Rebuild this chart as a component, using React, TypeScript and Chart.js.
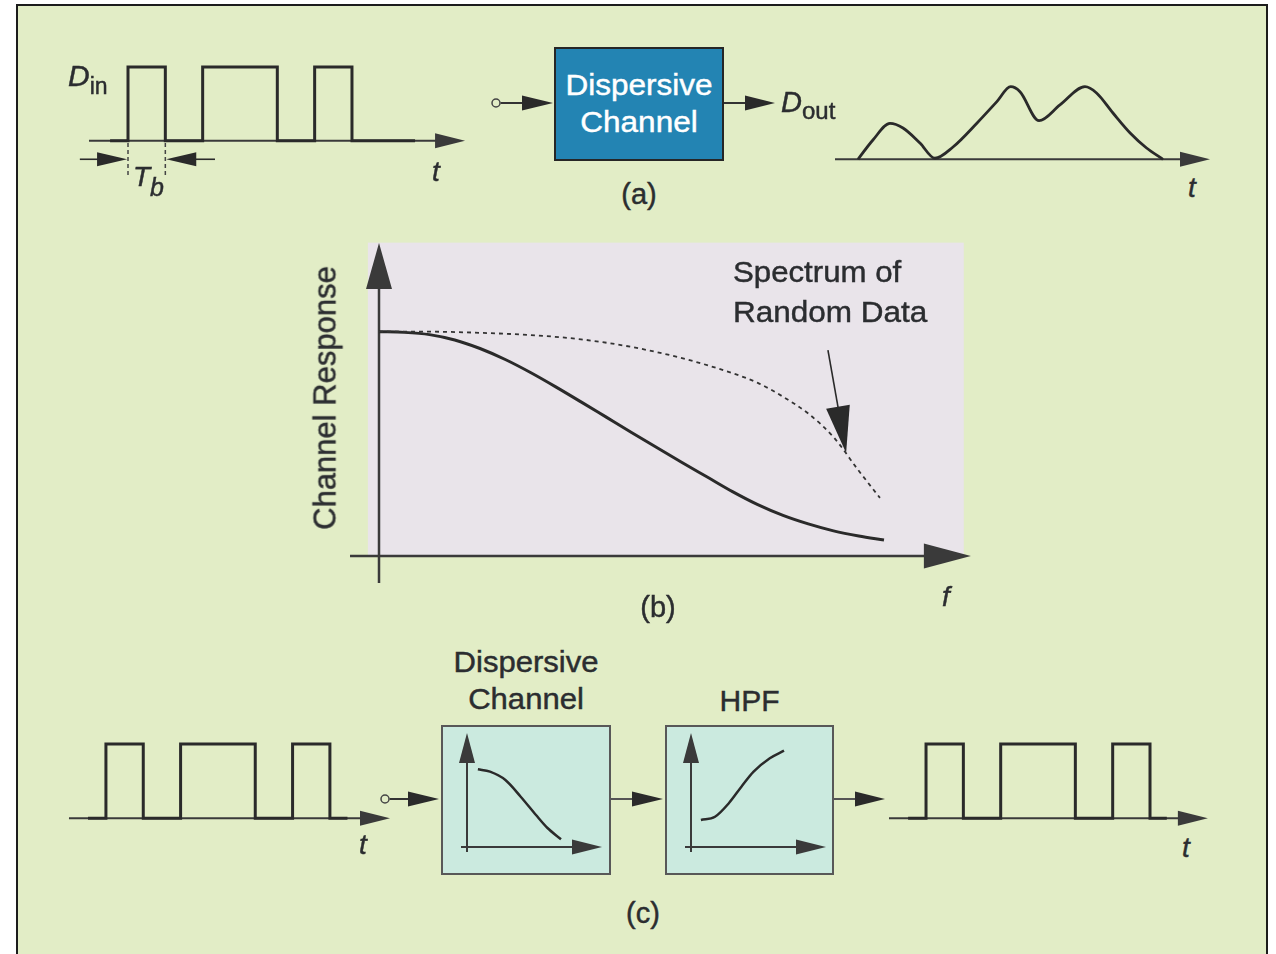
import React, { useEffect, useRef } from "react";
import { Chart, registerables } from "chart.js";

Chart.register(...registerables);

// ---------------- data ----------------
// (a) input bit stream, one level per bit period Tb
const dinBits = [0, 1, 0, 1, 1, 0, 1, 0, 0];
const dinSpan = [0.52, 8.69]; // start / end of the trace, in Tb
// (a) dispersed output waveform (time in Tb, normalized level)
const doutTime = [0, 0.4, 0.857, 1.205, 1.66, 2.06, 2.545, 3.19, 3.72, 4.09, 4.34, 4.85, 5.41, 6.08, 6.39, 6.83, 7.29, 7.73, 8.17];
const doutLevel = [0, 0.262, 0.488, 0.425, 0.221, 0.014, 0.167, 0.493, 0.782, 0.985, 0.917, 0.524, 0.737, 0.985, 0.9, 0.628, 0.357, 0.153, 0];
// (b) channel response vs frequency
const respFreq = [0, 0.5, 1, 1.5, 2, 2.5, 3, 3.5, 4, 4.5, 5, 5.5, 6, 6.5, 7, 7.5, 8, 8.5, 9, 9.5, 10];
const channelResp = [1.0, 0.997, 0.987, 0.963, 0.925, 0.876, 0.818, 0.754, 0.687, 0.619, 0.551, 0.484, 0.417, 0.352, 0.287, 0.229, 0.181, 0.143, 0.112, 0.089, 0.071];
// (b) spectrum of random data
const spectrumFreq = [0, 1, 2, 3, 4, 5, 6, 7, 7.5, 8, 8.5, 9, 9.5, 9.92];
const spectrumLevel = [1.0, 1.0, 0.995, 0.985, 0.966, 0.932, 0.882, 0.815, 0.772, 0.71, 0.635, 0.53, 0.38, 0.259];
// (c) input and equalized output bit streams
const eqInBits = [0, 1, 0, 1, 1, 0, 1, 0];
const eqInSpan = [0.52, 7.47];
const eqOutBits = [0, 1, 0, 1, 1, 0, 1, 0];
const eqOutSpan = [0.52, 7.45];
// (c) small sketches inside the blocks
const lpfFreq = [0.109, 0.23, 0.384, 0.537, 0.69, 0.805, 0.94];
const lpfGain = [0.777, 0.753, 0.67, 0.503, 0.32, 0.19, 0.077];
const hpfFreq = [0.099, 0.24, 0.38, 0.504, 0.626, 0.788, 0.93];
const hpfGain = [0.27, 0.303, 0.44, 0.603, 0.753, 0.887, 0.963];

// ---------------- styles ----------------
const BG = "#e2edc6";
const PINK = "#e9e4ea";
const BLUE = "#2384b3";
const CYAN = "#cbeadf";
const INK = "#2a2a2a";
const AXIS = "#3a3a3a";
const TEXT = "#2b2d30";
const FONT = "'Liberation Sans', Arial, Helvetica, sans-serif";

type Pt = { x: number; y: number };

function stepPoints(bits: number[], span: number[]): Pt[] {
  const pts: Pt[] = [{ x: span[0], y: bits[0] }];
  for (let i = 1; i < bits.length; i++) {
    if (bits[i] !== bits[i - 1]) {
      pts.push({ x: i, y: bits[i - 1] }, { x: i, y: bits[i] });
    }
  }
  const last = bits[Math.min(bits.length - 1, Math.floor(span[1]))];
  pts.push({ x: span[1], y: last });
  return pts;
}

function zipPts(xs: number[], ys: number[]): Pt[] {
  return xs.map((x, i) => ({ x, y: ys[i] }));
}

function range(map: number[], start: number, len: number) {
  const [p0, v0, p1, v1] = map;
  const ppu = (p1 - p0) / (v1 - v0);
  const a = v0 + (start - p0) / ppu;
  const b = v0 + (start + len - p0) / ppu;
  return { min: Math.min(a, b), max: Math.max(a, b) };
}

function drawArrow(ctx: CanvasRenderingContext2D, x1: number, y1: number, x2: number, y2: number, w: number, color: string, hl: number, hw: number) {
  const dx = x2 - x1, dy = y2 - y1;
  const L = Math.hypot(dx, dy);
  const ux = dx / L, uy = dy / L;
  const bx = x2 - ux * hl, by = y2 - uy * hl;
  ctx.strokeStyle = color;
  ctx.lineWidth = w;
  ctx.setLineDash([]);
  ctx.beginPath();
  ctx.moveTo(x1, y1);
  ctx.lineTo(bx + ux * 2, by + uy * 2);
  ctx.stroke();
  ctx.fillStyle = color;
  ctx.beginPath();
  ctx.moveTo(x2, y2);
  ctx.lineTo(bx - uy * hw, by + ux * hw);
  ctx.lineTo(bx + uy * hw, by - ux * hw);
  ctx.closePath();
  ctx.fill();
}

type Deco = {
  rects?: { x0: number; x1: number; y0: number; y1: number; color: string }[];
  lines?: { x1: number; y1: number; x2: number; y2: number; w: number; color: string; dash?: number[] }[];
  arrows?: { x1: number; y1: number; x2: number; y2: number; w: number; color: string; hl: number; hw: number }[];
};

function makeDiagram(deco: Deco) {
  return {
    id: "diagram",
    beforeDatasetsDraw(chart: any) {
      const ctx: CanvasRenderingContext2D = chart.ctx;
      const X = (v: number) => chart.scales.x.getPixelForValue(v);
      const Y = (v: number) => chart.scales.y.getPixelForValue(v);
      ctx.save();
      (deco.rects || []).forEach((r) => {
        ctx.fillStyle = r.color;
        ctx.fillRect(X(r.x0), Y(r.y1), X(r.x1) - X(r.x0), Y(r.y0) - Y(r.y1));
      });
      (deco.lines || []).forEach((l) => {
        ctx.strokeStyle = l.color;
        ctx.lineWidth = l.w;
        ctx.setLineDash(l.dash || []);
        ctx.beginPath();
        ctx.moveTo(X(l.x1), Y(l.y1));
        ctx.lineTo(X(l.x2), Y(l.y2));
        ctx.stroke();
      });
      (deco.arrows || []).forEach((a) => {
        drawArrow(ctx, X(a.x1), Y(a.y1), X(a.x2), Y(a.y2), a.w, a.color, a.hl, a.hw);
      });
      ctx.restore();
    },
  };
}

type PlotProps = {
  box: number[];
  xMap: number[];
  yMap: number[];
  datasets: any[];
  deco: Deco;
};

function Plot({ box, xMap, yMap, datasets, deco }: PlotProps) {
  const ref = useRef<HTMLCanvasElement>(null);
  const [left, top, width, height] = box;
  useEffect(() => {
    if (!ref.current) return;
    const xr = range(xMap, left, width);
    const yr = range(yMap, top, height);
    const chart = new Chart(ref.current, {
      type: "line",
      data: { datasets },
      options: {
        animation: false,
        responsive: false,
        maintainAspectRatio: false,
        events: [],
        layout: { padding: 0 },
        plugins: { legend: { display: false }, tooltip: { enabled: false } },
        elements: { point: { radius: 0 } },
        scales: {
          x: { type: "linear", display: false, min: xr.min, max: xr.max },
          y: { type: "linear", display: false, min: yr.min, max: yr.max },
        },
      },
      plugins: [makeDiagram(deco)],
    } as any);
    return () => chart.destroy();
  }, []);
  return (
    <canvas
      ref={ref}
      width={width}
      height={height}
      style={{ position: "absolute", left, top, width, height }}
    />
  );
}

const STROKE = "0.45px";

function Label({ x, base, size = 29, align = "center", italic = false, sx = 1, color = TEXT, children }: any) {
  return (
    <div
      style={{
        position: "absolute",
        left: x,
        top: base - 0.8465 * size,
        fontSize: size,
        lineHeight: `${size}px`,
        whiteSpace: "nowrap",
        fontStyle: italic ? "italic" : "normal",
        transform: `${align === "center" ? "translateX(-50%) " : ""}scaleX(${sx})`,
        transformOrigin: align === "center" ? "center" : "left",
        color,
        WebkitTextStroke: `${STROKE} ${color}`,
      }}
    >
      {children}
    </div>
  );
}

const lineDS = (data: Pt[], w: number, extra: any = {}) => ({
  data,
  borderColor: INK,
  borderWidth: w,
  fill: false,
  pointRadius: 0,
  tension: 0,
  borderJoinStyle: "miter",
  ...extra,
});

const waveAxis = (from: number, to: number) => ({
  x1: from, y1: 0, x2: to, y2: 0, w: 2, color: AXIS, hl: 30, hw: 7.5,
});

export default function App() {
  const TB = 37.33;
  const AMP = 73.7;
  return (
    <div
      style={{
        position: "fixed",
        left: 0,
        top: 0,
        width: 1276,
        height: 954,
        overflow: "hidden",
        background: "#ffffff",
        fontFamily: FONT,
      }}
    >
      <div
        style={{
          position: "absolute",
          left: 16,
          top: 4,
          width: 1252,
          height: 980,
          boxSizing: "border-box",
          border: "2px solid #1c1c1c",
          background: BG,
        }}
      />

      {/* block diagram connectors */}
      <svg width={1276} height={954} style={{ position: "absolute", left: 0, top: 0 }}>
        <g stroke="#333" strokeWidth={2} fill="#2a2a2a">
          <line x1={500.5} y1={103} x2={524} y2={103} />
          <polygon points="522,95.5 553,103 522,110.5" stroke="none" />
          <line x1={723} y1={103} x2={747} y2={103} />
          <polygon points="745,95.5 775,103 745,110.5" stroke="none" />
          <line x1={389.5} y1={799} x2={410} y2={799} />
          <polygon points="408,791.5 439,799 408,806.5" stroke="none" />
          <line x1={610} y1={799} x2={634} y2={799} stroke="#555" />
          <polygon points="632,791.5 663,799 632,806.5" stroke="none" />
          <line x1={833} y1={799} x2={857} y2={799} stroke="#555" />
          <polygon points="855,791.5 885,799 855,806.5" stroke="none" />
        </g>
        <circle cx={496} cy={103} r={4} stroke="#444" strokeWidth={1.5} fill={BG} />
        <circle cx={385} cy={799} r={4} stroke="#444" strokeWidth={1.5} fill={BG} />
      </svg>

      {/* (a) Dispersive Channel block */}
      <div
        style={{
          position: "absolute",
          left: 554,
          top: 47,
          width: 170,
          height: 114,
          boxSizing: "border-box",
          border: "2px solid #262626",
          background: BLUE,
        }}
      />
      <Label x={639} base={95.5} size={30} sx={1.05} color="#ffffff">Dispersive</Label>
      <Label x={639} base={132.5} size={30} sx={1.05} color="#ffffff">Channel</Label>

      {/* (c) blocks */}
      <div style={{ position: "absolute", left: 441, top: 725, width: 170, height: 150, boxSizing: "border-box", border: "2px solid #585858", background: CYAN }} />
      <div style={{ position: "absolute", left: 665, top: 725, width: 169, height: 150, boxSizing: "border-box", border: "2px solid #585858", background: CYAN }} />

      {/* (a) D_in waveform */}
      <Plot
        box={[40, 40, 450, 170]}
        xMap={[90.67, 0, 90.67 + TB * 10, 10]}
        yMap={[140.7, 0, 140.7 - AMP, 1]}
        datasets={[lineDS(stepPoints(dinBits, dinSpan), 3)]}
        deco={{
          arrows: [
            waveAxis(-0.045, 10.03),
            { x1: -0.29, y1: -0.252, x2: 0.975, y2: -0.252, w: 1.6, color: INK, hl: 30, hw: 7 },
            { x1: 3.33, y1: -0.252, x2: 2.025, y2: -0.252, w: 1.6, color: INK, hl: 30, hw: 7 },
          ],
          lines: [
            { x1: 1, y1: -0.03, x2: 1, y2: -0.48, w: 1.5, color: "#444", dash: [4, 3] },
            { x1: 2, y1: -0.03, x2: 2, y2: -0.48, w: 1.5, color: "#444", dash: [4, 3] },
          ],
        }}
      />

      {/* (a) D_out waveform */}
      <Plot
        box={[825, 70, 400, 100]}
        xMap={[858, 0, 858 + TB * 10, 10]}
        yMap={[159.3, 0, 159.3 - AMP, 1]}
        datasets={[lineDS(zipPts(doutTime, doutLevel), 2.8, { cubicInterpolationMode: "monotone" })]}
        deco={{ arrows: [waveAxis(-0.616, 9.43)] }}
      />

      {/* (b) main plot */}
      <Plot
        box={[340, 236, 650, 362]}
        xMap={[379, 0, 884, 10]}
        yMap={[556, 0, 331.7, 1]}
        datasets={[
          lineDS(zipPts(spectrumFreq, spectrumLevel), 1.8, { borderDash: [4, 4], cubicInterpolationMode: "monotone", borderColor: "#333" }),
          lineDS(zipPts(respFreq, channelResp), 3, { cubicInterpolationMode: "monotone" }),
        ]}
        deco={{
          rects: [{ x0: -0.22, x1: 11.58, y0: 0, y1: 1.397, color: PINK }],
          arrows: [
            { x1: -0.574, y1: 0, x2: 11.72, y2: 0, w: 2.5, color: AXIS, hl: 47, hw: 12.5 },
            { x1: 0, y1: -0.12, x2: 0, y2: 1.395, w: 2.5, color: AXIS, hl: 46, hw: 13 },
            { x1: 8.89, y1: 0.918, x2: 9.25, y2: 0.459, w: 1.6, color: INK, hl: 47, hw: 12 },
          ],
        }}
      />

      {/* (c) input waveform */}
      <Plot
        box={[55, 730, 345, 100]}
        xMap={[68.6, 0, 68.6 + TB * 10, 10]}
        yMap={[818.3, 0, 818.3 - 74.3, 1]}
        datasets={[lineDS(stepPoints(eqInBits, eqInSpan), 3)]}
        deco={{ arrows: [waveAxis(0.01, 8.61)] }}
      />

      {/* (c) output waveform */}
      <Plot
        box={[880, 730, 340, 100]}
        xMap={[888.7, 0, 888.7 + TB * 10, 10]}
        yMap={[818.3, 0, 818.3 - 74.3, 1]}
        datasets={[lineDS(stepPoints(eqOutBits, eqOutSpan), 3)]}
        deco={{ arrows: [waveAxis(0.008, 8.55)] }}
      />

      {/* (c) channel sketch */}
      <Plot
        box={[443, 727, 166, 146]}
        xMap={[467, 0, 567, 1]}
        yMap={[847, 0, 747, 1]}
        datasets={[lineDS(zipPts(lpfFreq, lpfGain), 2.5, { cubicInterpolationMode: "monotone" })]}
        deco={{
          arrows: [
            { x1: -0.06, y1: 0, x2: 1.35, y2: 0, w: 2, color: AXIS, hl: 30, hw: 7.5 },
            { x1: 0, y1: -0.05, x2: 0, y2: 1.14, w: 2, color: AXIS, hl: 30, hw: 8 },
          ],
        }}
      />

      {/* (c) HPF sketch */}
      <Plot
        box={[667, 727, 165, 146]}
        xMap={[691, 0, 791, 1]}
        yMap={[847, 0, 747, 1]}
        datasets={[lineDS(zipPts(hpfFreq, hpfGain), 2.5, { cubicInterpolationMode: "monotone" })]}
        deco={{
          arrows: [
            { x1: -0.06, y1: 0, x2: 1.35, y2: 0, w: 2, color: AXIS, hl: 30, hw: 7.5 },
            { x1: 0, y1: -0.05, x2: 0, y2: 1.14, w: 2, color: AXIS, hl: 30, hw: 8 },
          ],
        }}
      />

      {/* labels (a) */}
      <Label x={68} base={86.7} size={30} align="left" italic>
        D<span style={{ fontSize: 23, position: "relative", top: 8, fontStyle: "normal" }}>in</span>
      </Label>
      <Label x={133} base={187} size={28} align="left" italic>
        T<span style={{ fontSize: 25, position: "relative", top: 10 }}>b</span>
      </Label>
      <Label x={436} base={182} size={28} italic>t</Label>
      <Label x={781} base={113} size={29} align="left" italic>
        D<span style={{ fontSize: 24, position: "relative", top: 7, fontStyle: "normal" }}>out</span>
      </Label>
      <Label x={639} base={205} size={29}>(a)</Label>
      <Label x={1192} base={198} size={28} italic>t</Label>

      {/* labels (b) */}
      <Label x={733} base={282} size={30} align="left" sx={1.04}>Spectrum of</Label>
      <Label x={733} base={322} size={30} align="left" sx={1.05}>Random Data</Label>
      <div
        style={{
          position: "absolute",
          left: 325,
          top: 398,
          fontSize: 31,
          lineHeight: "31px",
          whiteSpace: "nowrap",
          color: TEXT,
          WebkitTextStroke: `${STROKE} ${TEXT}`,
          transform: "translate(-50%, -50%) rotate(-90deg)",
        }}
      >
        Channel Response
      </div>
      <Label x={658} base={618} size={29}>(b)</Label>
      <Label x={946} base={607} size={28} italic>f</Label>

      {/* labels (c) */}
      <Label x={526} base={673} size={29} sx={1.07}>Dispersive</Label>
      <Label x={526} base={710} size={29} sx={1.07}>Channel</Label>
      <Label x={749.5} base={711} size={30}>HPF</Label>
      <Label x={363} base={855} size={28} italic>t</Label>
      <Label x={1186} base={858} size={28} italic>t</Label>
      <Label x={643} base={924} size={29}>(c)</Label>
    </div>
  );
}
